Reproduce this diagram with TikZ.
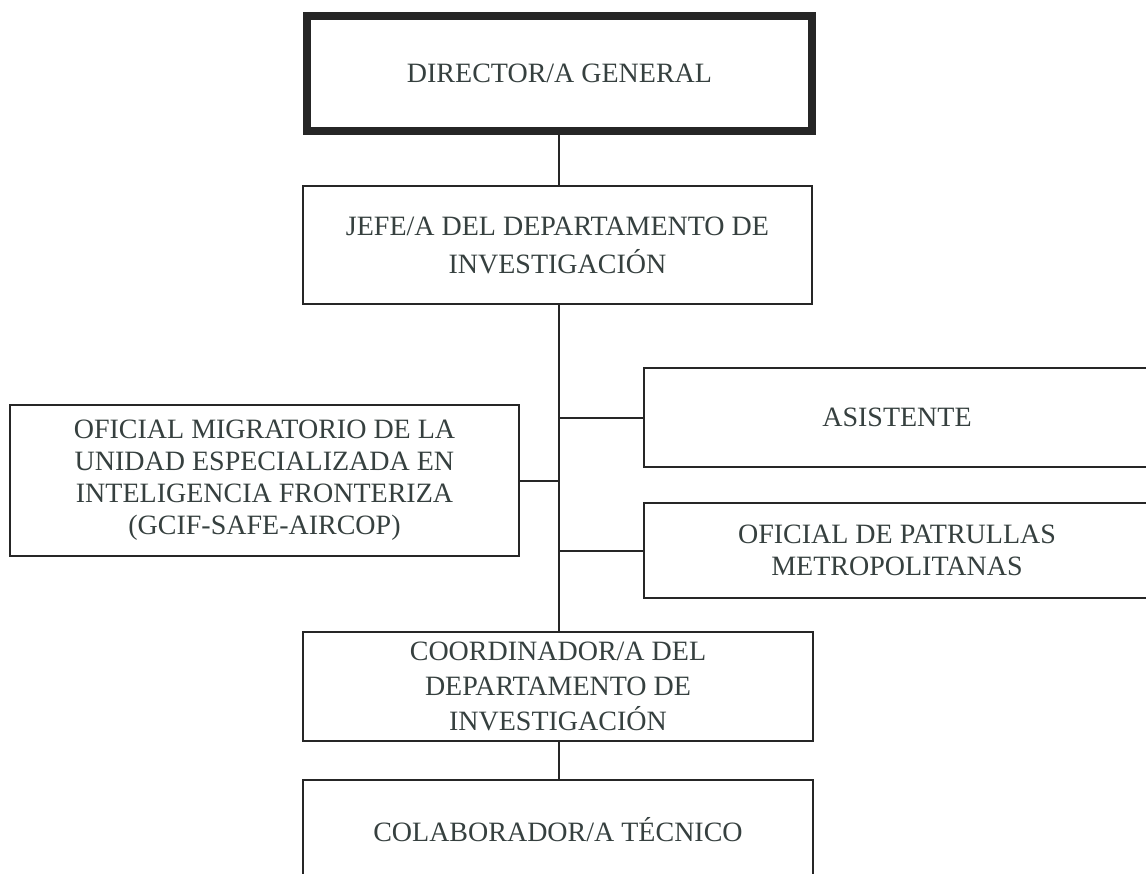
\documentclass[tikz,border=0pt]{standalone}
\usepackage{fontspec}
\setmainfont{Liberation Serif}
\definecolor{txt}{HTML}{36403F}
\definecolor{ln}{HTML}{262626}
\tikzset{
  box/.style={draw=ln, line width=1.6pt, rectangle, inner sep=0pt, align=center,
    text=txt, fill=white},
  bold box/.style={box, line width=6pt},
  conn/.style={draw=ln, line width=1.5pt},
  f24/.style={font=\fontsize{21}{24}\selectfont},
  f26/.style={font=\fontsize{21}{26}\selectfont},
  f28/.style={font=\fontsize{21}{28.5}\selectfont}
}
\begin{document}
\begin{tikzpicture}[x=0.75pt,y=-0.75pt]
\useasboundingbox (0,0) rectangle (1146,874);
\fill[white] (0,0) rectangle (1146,874);
\clip (0,0) rectangle (1146,874);

\node[bold box, f24, minimum width=505*0.75pt, minimum height=115*0.75pt] (dir) at (559.5,73.5) {DIRECTOR/A GENERAL};
\node[box, f28, minimum width=509*0.75pt, minimum height=118*0.75pt] (jefe) at (557.5,245) {JEFE/A DEL DEPARTAMENTO DE\\INVESTIGACIÓN};
\node[box, f24, minimum width=509*0.75pt, minimum height=151*0.75pt] (ofmig) at (264.5,480.5) {OFICIAL MIGRATORIO DE LA\\UNIDAD ESPECIALIZADA EN\\INTELIGENCIA FRONTERIZA\\(GCIF-SAFE-AIRCOP)};
\node[box, f24, minimum width=506*0.75pt, minimum height=99*0.75pt] (asis) at (897,417.5) {ASISTENTE};
\node[box, f24, minimum width=506*0.75pt, minimum height=95*0.75pt] (patr) at (897,550.5) {OFICIAL DE PATRULLAS\\METROPOLITANAS};
\node[box, f26, minimum width=510*0.75pt, minimum height=109*0.75pt] (coord) at (558,686.5) {COORDINADOR/A DEL\\DEPARTAMENTO DE\\INVESTIGACIÓN};
\node[box, f24, minimum width=510*0.75pt, minimum height=100*0.75pt] (colab) at (558,830) {COLABORADOR/A TÉCNICO};

\coordinate (trunk) at (559,0);
\draw[conn] (dir.south -| trunk) -- (jefe.north -| trunk);
\draw[conn] (jefe.south -| trunk) -- (coord.north -| trunk);
\draw[conn] (asis.west) -- (asis.west -| trunk);
\draw[conn] (patr.west) -- (patr.west -| trunk);
\draw[conn] (ofmig.east) -- (ofmig.east -| trunk);
\draw[conn] (coord.south -| trunk) -- (colab.north -| trunk);
\end{tikzpicture}
\end{document}
